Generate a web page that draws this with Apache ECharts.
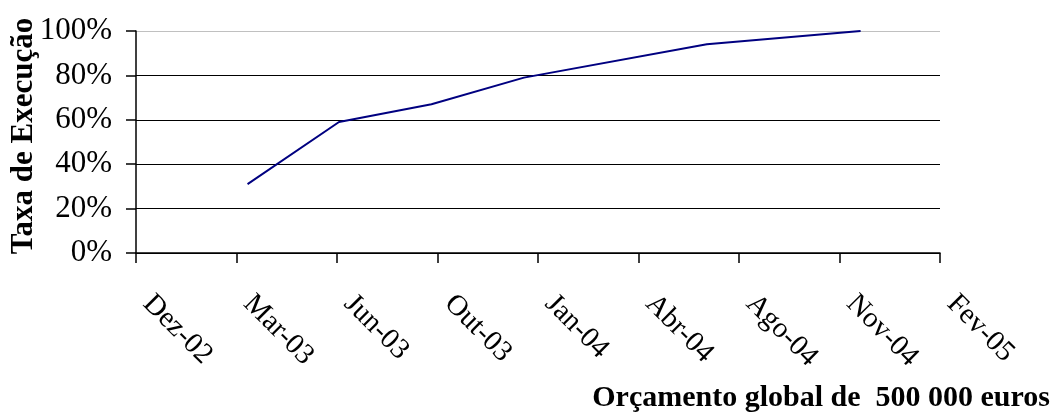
<!DOCTYPE html>
<html>
<head>
<meta charset="utf-8">
<script src="https://cdn.jsdelivr.net/npm/echarts@6/dist/echarts.min.js"></script>
<style>
  html, body { margin: 0; padding: 0; background: #fff; }
  #chart { width: 1056px; height: 417px; }
</style>
</head>
<body>
<div id="chart"></div>
<script>
// Execution rate over time (share of the 500 000 euro budget spent)
const axisStartDate = '2002-12-10';   // first tick of the date axis
const tickStepDays = 100;             // spacing between date ticks
const tickLabels = ['Dez-02', 'Mar-03', 'Jun-03', 'Out-03', 'Jan-04', 'Abr-04', 'Ago-04', 'Nov-04', 'Fev-05'];
const reportDates = ['2003-03-31', '2003-06-30', '2003-09-30', '2003-12-31', '2004-06-30', '2004-11-30'];
const executionRate = [0.31, 0.59, 0.67, 0.79, 0.94, 1.00];
const yTicks = [0, 0.2, 0.4, 0.6, 0.8, 1.0];

const DAY = 24 * 3600 * 1000;
const t0 = Date.parse(axisStartDate + 'T00:00:00Z');
const dayOffset = d => Math.round((Date.parse(d + 'T00:00:00Z') - t0) / DAY);
const points = reportDates.map((d, i) => [dayOffset(d), executionRate[i]]);

const serif = '"Liberation Serif", "Times New Roman", serif';
const chart = echarts.init(document.getElementById('chart'), null, { renderer: 'canvas' });

chart.setOption({
  backgroundColor: '#ffffff',
  animation: false,
  grid: { left: 136, right: 116, top: 31, bottom: 164, containLabel: false },
  xAxis: {
    type: 'value',
    min: 0,
    max: tickStepDays * (tickLabels.length - 1),
    interval: tickStepDays,
    axisLine: { show: true, lineStyle: { color: '#000', width: 1.5 } },
    axisTick: { show: true, inside: false, length: 10, lineStyle: { color: '#000', width: 1.5 } },
    splitLine: { show: false },
    axisLabel: {
      rotate: -45,
      margin: 35,
      padding: [0, 0, 0, 16],
      fontFamily: serif,
      fontSize: 29,
      color: '#000',
      formatter: v => tickLabels[Math.round(v / tickStepDays)] || ''
    }
  },
  yAxis: {
    type: 'value',
    min: yTicks[0],
    max: yTicks[yTicks.length - 1],
    interval: 0.2,
    axisLine: { show: true, lineStyle: { color: '#000', width: 1.5 } },
    axisTick: { show: true, inside: false, length: 10, lineStyle: { color: '#000', width: 1.5 } },
    splitLine: {
      show: true,
      lineStyle: { color: ['#000', '#000', '#000', '#000', '#000', '#c0c0c0'], width: 1 }
    },
    axisLabel: {
      margin: 24,
      fontFamily: serif,
      fontSize: 31,
      color: '#000',
      formatter: v => Math.round(v * 100) + '%'
    }
  },
  graphic: [
    {
      type: 'text',
      x: 24,
      y: 136,
      rotation: Math.PI / 2,
      style: {
        text: 'Taxa de Execução',
        font: 'bold 31px ' + serif,
        fill: '#000',
        align: 'center',
        verticalAlign: 'middle'
      }
    },
    {
      type: 'text',
      right: 6,
      top: 383,
      style: {
        text: 'Orçamento global de  500 000 euros',
        font: 'bold 30px ' + serif,
        fill: '#000'
      }
    }
  ],
  series: [
    {
      type: 'line',
      data: points,
      showSymbol: false,
      symbol: 'none',
      lineStyle: { color: '#000080', width: 2 },
      z: 5
    }
  ]
});
</script>
</body>
</html>
